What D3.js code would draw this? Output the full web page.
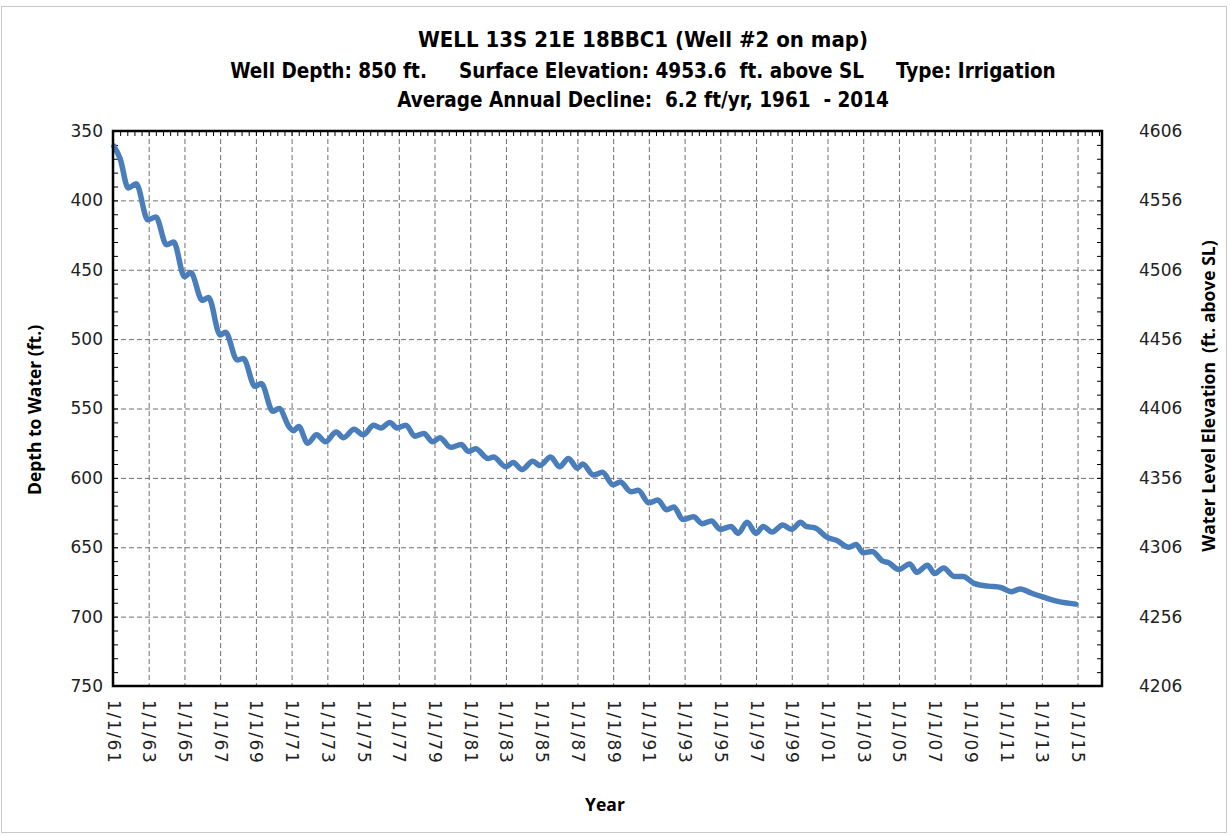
<!DOCTYPE html>
<html>
<head>
<meta charset="utf-8">
<script src="https://cdn.jsdelivr.net/npm/d3@7"></script>
<style>
  body { margin: 0; background: #fff; }
  svg { display: block; }
  .title { font-family: "DejaVu Sans Condensed", "DejaVu Sans", sans-serif; font-weight: bold; fill: #000; white-space: pre; }
  .tick text { font-family: "DejaVu Sans", Verdana, sans-serif; font-size: 17px; fill: #222; }
  .xlab .tick text { letter-spacing: 1.6px; }
  .axis path { display: none; }
  .axis line { stroke: #000; }
  .grid line { stroke: #707070; stroke-dasharray: 5,3; }
  .grid path { display: none; }
  .axtitle { font-family: "Open Sans", "DejaVu Sans", sans-serif; font-weight: bold; font-size: 17.5px; fill: #000; white-space: pre; }
</style>
</head>
<body>
<div id="chart"></div>
<script>
// observation times (decimal year) and depth to water (ft)
var obsYear = [1961.05, 1961.4, 1961.85, 1962.3, 1962.95, 1963.4, 1964.0, 1964.4, 1965.0, 1965.35,
  1966.0, 1966.35, 1967.0, 1967.3, 1967.95, 1968.3, 1968.95, 1969.3, 1969.95, 1970.3,
  1970.85, 1971.1, 1971.4, 1971.9, 1972.4, 1972.9, 1973.5, 1973.9, 1974.5, 1975.0,
  1975.6, 1976.0, 1976.5, 1976.9, 1977.4, 1977.9, 1978.4, 1978.9, 1979.3, 1979.9,
  1980.5, 1980.9, 1981.3, 1982.0, 1982.3, 1983.0, 1983.4, 1983.9, 1984.5, 1984.9,
  1985.5, 1986.0, 1986.5, 1987.0, 1987.3, 1987.9, 1988.4, 1989.0, 1989.4, 1990.0,
  1990.4, 1991.0, 1991.5, 1992.0, 1992.4, 1992.9, 1993.5, 1994.0, 1994.5, 1995.0,
  1995.6, 1996.0, 1996.5, 1997.0, 1997.4, 1997.9, 1998.5, 1999.0, 1999.5, 1999.8,
  2000.3, 2001.0, 2001.5, 2002.2, 2002.6, 2003.0, 2003.5, 2004.1, 2004.4, 2005.0,
  2005.6, 2006.0, 2006.6, 2007.0, 2007.5, 2008.1, 2008.6, 2009.2, 2010.0, 2010.7,
  2011.3, 2011.8, 2012.4, 2013.1, 2013.9, 2014.9];

var depthFt = [361, 370, 391, 388, 414, 412, 432, 430, 455, 452,
  472, 470, 497, 495, 515, 514, 534, 532, 552, 550,
  563, 566, 563, 575, 569, 574, 567, 571, 565, 569,
  562, 564, 560, 564, 562, 570, 568, 574, 571, 578,
  576, 581, 579, 586, 585, 592, 589, 594, 588, 591,
  585, 592, 586, 593, 590, 598, 596, 605, 603, 610,
  609, 618, 616, 623, 621, 630, 628, 633, 631, 637,
  635, 640, 632, 640, 635, 639, 634, 637, 632, 635,
  636, 643, 645, 650, 648, 654, 653, 660, 661, 666,
  662, 668, 663, 669, 665, 671, 671, 676, 678, 679,
  682, 680, 683, 686, 689, 691];

var depthTicks = [350, 400, 450, 500, 550, 600, 650, 700, 750];
var elevTicks = [4606, 4556, 4506, 4456, 4406, 4356, 4306, 4256, 4206];
var labelYears = d3.range(1961, 2016, 2);

var titleLines = [
  "WELL 13S 21E 18BBC1 (Well #2 on map)",
  "Well Depth: 850 ft.     Surface Elevation: 4953.6  ft. above SL     Type: Irrigation",
  "Average Annual Decline:  6.2 ft/yr, 1961  - 2014"
];

var W = 1231, H = 835;
var margin = { top: 131, right: 129, bottom: 149, left: 113 };
var w = W - margin.left - margin.right, h = H - margin.top - margin.bottom;

function toDate(yr) {
  var y = Math.floor(yr);
  var start = new Date(y, 0, 1);
  return new Date(start.getTime() + (yr - y) * 365.25 * 864e5);
}

var data = obsYear.map(function(d, i) { return { date: toDate(d), depth: depthFt[i] }; });

var svg = d3.select("#chart").append("svg")
  .attr("width", W).attr("height", H);

svg.append("rect")
  .attr("x", 1.5).attr("y", 6.5)
  .attr("width", 1225).attr("height", 826)
  .attr("fill", "#fff").attr("stroke", "#c8c8c8");

var x = d3.scaleTime()
  .domain([new Date(1961, 0, 1), new Date(2016, 4, 15)])
  .range([0, w]);
var y = d3.scaleLinear().domain([350, 750]).range([0, h]);
var yR = d3.scaleLinear().domain([4606, 4206]).range([0, h]);

var g = svg.append("g").attr("transform", "translate(" + margin.left + "," + margin.top + ")");

// grid
g.append("g").attr("class", "grid")
  .call(d3.axisBottom(x).tickValues(labelYears.slice(1).map(function(d) { return new Date(d, 0, 1); }))
    .tickSize(h).tickFormat(""));
g.append("g").attr("class", "grid")
  .call(d3.axisLeft(y).tickValues(depthTicks.slice(1, -1)).tickSize(-w).tickFormat(""));

// minor ticks
var minorDepth = d3.range(350, 751, 10);
g.append("g").attr("class", "axis")
  .call(d3.axisLeft(y).tickValues(minorDepth).tickSize(-5).tickFormat(""));
g.append("g").attr("class", "axis").attr("transform", "translate(" + w + ",0)")
  .call(d3.axisRight(y).tickValues(minorDepth).tickSize(-5).tickFormat(""));
var minorX = d3.range(0, 55.4, 0.4).map(function(d) { return toDate(1961 + d); });
g.append("g").attr("class", "axis")
  .call(d3.axisTop(x).tickValues(minorX).tickSize(-5).tickFormat(""));

// tick labels
g.append("g").attr("class", "axis")
  .call(d3.axisLeft(y).tickValues(depthTicks).tickSize(0).tickPadding(10));
g.append("g").attr("class", "axis").attr("transform", "translate(" + w + ",0)")
  .call(d3.axisRight(yR).tickValues(elevTicks).tickSize(0).tickPadding(37).tickFormat(d3.format("d")));

var xAx = g.append("g").attr("class", "axis xlab").attr("transform", "translate(0," + h + ")")
  .call(d3.axisBottom(x).tickValues(labelYears.map(function(d) { return new Date(d, 0, 1); }))
    .tickSize(0).tickFormat(d3.timeFormat("%-m/%-d/%y")));
xAx.selectAll("text")
  .attr("transform", "rotate(90)")
  .attr("text-anchor", "start")
  .attr("x", 14).attr("y", 0).attr("dy", "0.35em");

// data line
var line = d3.line()
  .x(function(d) { return x(d.date); })
  .y(function(d) { return y(d.depth); })
  .curve(d3.curveMonotoneX);

g.append("path").datum(data)
  .attr("d", line)
  .attr("fill", "none")
  .attr("stroke", "#4a7ebb")
  .attr("stroke-width", 5.5)
  .attr("stroke-linejoin", "round")
  .attr("stroke-linecap", "round");

// frame
g.append("rect").attr("width", w).attr("height", h)
  .attr("fill", "none").attr("stroke", "#000").attr("stroke-width", 2.5);

// titles
svg.selectAll("text.title").data(titleLines).enter().append("text")
  .attr("class", "title")
  .attr("x", 643)
  .attr("y", function(d, i) { return [47, 78, 107][i]; })
  .attr("text-anchor", "middle")
  .style("font-size", function(d, i) { return i === 0 ? "22px" : "20.5px"; })
  .text(function(d) { return d; });

svg.append("text").attr("class", "axtitle")
  .attr("transform", "translate(41,410) rotate(-90)")
  .attr("text-anchor", "middle")
  .text("Depth to Water (ft.)");

svg.append("text").attr("class", "axtitle")
  .attr("transform", "translate(1215,396) rotate(-90)")
  .attr("text-anchor", "middle")
  .text("Water Level Elevation  (ft. above SL)");

svg.append("text").attr("class", "axtitle")
  .attr("x", 605).attr("y", 811)
  .attr("text-anchor", "middle")
  .text("Year");
</script>
</body>
</html>
